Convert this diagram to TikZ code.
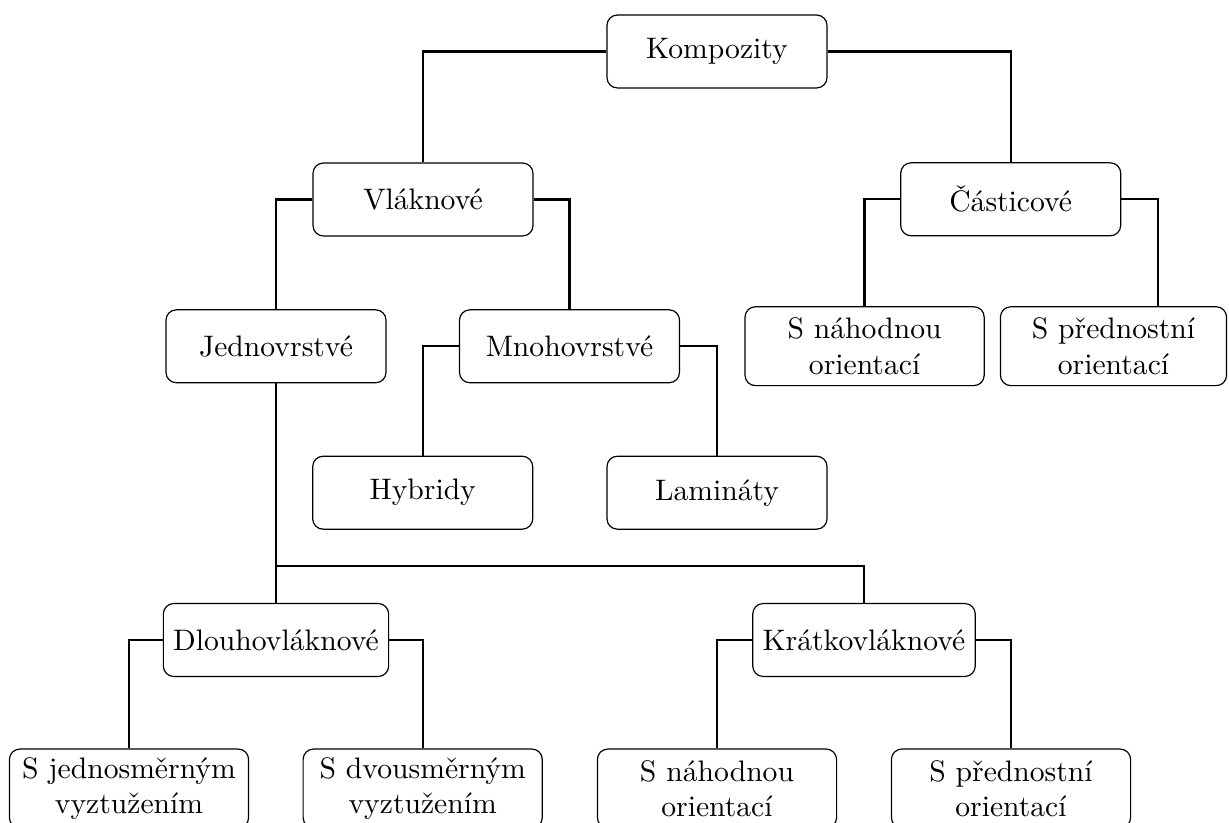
\documentclass[tikz,border=0pt]{standalone}
\begin{document}
\begin{tikzpicture}[x=0.33727pt,y=-0.33727pt,
  box/.style={draw, line width=0.4pt, rounded corners=3.5pt, minimum width=74.2pt, minimum height=24.6pt, align=center},
  twobox/.style={draw, line width=0.4pt, rounded corners=3.5pt, text width=74pt, inner ysep=2pt, minimum height=26.6pt, align=center},
  link/.style={line width=0.8pt}]
\useasboundingbox (0,0) rectangle (1229,823);
\node[box] (komp) at (717,51.5) {Kompozity};
\node[box] (vlak) at (423,199.5) {Vláknové};
\node[box] (cast) at (1010.7,199.3) {Částicové};
\node[box] (jedn) at (276,346.3) {Jednovrstvé};
\node[box] (mnoh) at (569.5,346.3) {Mnohovrstvé};
\node[twobox] (snah1) at (864.6,346.2) {S náhodnou\\orientací};
\node[twobox, text width=69.6pt] (spred1) at (1113.5,346.2) {S přednostní\\orientací};
\node[box] (hyb) at (422.7,492.7) {Hybridy};
\node[box] (lam) at (717,492.7) {Lamináty};
\node[box] (dlou) at (276,640) {Dlouhovláknové};
\node[box] (krat) at (864,640) {Krátkovláknové};
\node[twobox] (sjed) at (129,788.5) {S jednosměrným\\vyztužením};
\node[twobox] (sdvo) at (422.7,788.5) {S dvousměrným\\vyztužením};
\node[twobox] (snah2) at (717,788.5) {S náhodnou\\orientací};
\node[twobox] (spred2) at (1011,788.5) {S přednostní\\orientací};
\coordinate (bus) at (276,566);
\draw[link] (komp.west) -| (vlak.north);
\draw[link] (komp.east) -| (cast.north);
\draw[link] (vlak.west) -| (jedn.north);
\draw[link] (vlak.east) -| (mnoh.north);
\draw[link] (cast.west) -| (snah1.north);
\draw[link] (cast.east) -| ([xshift=14.9pt]spred1.north);
\draw[link] (mnoh.west) -| (hyb.north);
\draw[link] (mnoh.east) -| (lam.north);
\draw[link] (jedn.south) -- (dlou.north);
\draw[link] (bus) -| (krat.north);
\draw[link] (dlou.west) -| (sjed.north);
\draw[link] (dlou.east) -| (sdvo.north);
\draw[link] (krat.west) -| (snah2.north);
\draw[link] (krat.east) -| (spred2.north);
\end{tikzpicture}
\end{document}
